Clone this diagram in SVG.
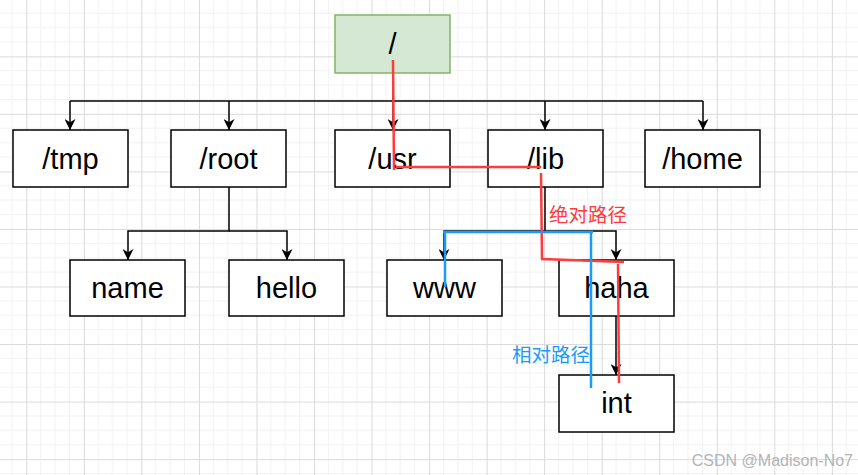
<svg xmlns="http://www.w3.org/2000/svg" width="858" height="475" viewBox="0 0 858 475">
<defs>
<pattern id="grid" patternUnits="userSpaceOnUse" x="26.3" y="-1.2" width="57.54" height="57.54">
<path d="M14.385,0V57.54M28.77,0V57.54M43.155,0V57.54M0,14.385H57.54M0,28.77H57.54M0,43.155H57.54" stroke="#f2f2f2" stroke-width="1" fill="none"/>
<path d="M0.5,0V57.54M0,0.5H57.54" stroke="#dadada" stroke-width="1" fill="none"/>
</pattern>
<marker id="arr" viewBox="0 0 10 10" refX="10" refY="5" markerWidth="11" markerHeight="11" markerUnits="userSpaceOnUse" orient="auto">
<path d="M0,0 L10,5 L0,10 L3,5 z" fill="#000"/>
</marker>
<style>
.box{fill:#fff;stroke:#000;stroke-width:1.5}
.lbl{font-family:"Liberation Sans",Arial,sans-serif;font-size:29px;fill:#000;text-anchor:middle}
.c{fill:none;stroke:#000;stroke-width:1.5}
.red{fill:none;stroke:#ff3b3b;stroke-width:2.5}
.blue{fill:none;stroke:#1a9bfc;stroke-width:2.5}
.note{font-family:"Liberation Sans","Noto Sans CJK SC",sans-serif;font-size:19.5px}
</style>
</defs>
<rect width="858" height="475" fill="#fff"/>
<rect width="858" height="475" fill="url(#grid)"/>

<g id="connectors">
<path class="c" d="M393,73V101"/>
<path class="c" d="M70,101H703"/>
<path class="c" d="M70,101V130" marker-end="url(#arr)"/>
<path class="c" d="M229,101V130" marker-end="url(#arr)"/>
<path class="c" d="M393,101V130" marker-end="url(#arr)"/>
<path class="c" d="M545,101V130" marker-end="url(#arr)"/>
<path class="c" d="M703,101V130" marker-end="url(#arr)"/>
<path class="c" d="M229,187V231H128V260" marker-end="url(#arr)"/>
<path class="c" d="M229,231H287V260" marker-end="url(#arr)"/>
<path class="c" d="M545,187V231H444V260" marker-end="url(#arr)"/>
<path class="c" d="M545,231H616V260" marker-end="url(#arr)"/>
<path class="c" d="M616,316V375" marker-end="url(#arr)"/>
</g>

<g id="n-root"><rect x="335" y="15" width="115" height="58" fill="#d5e8d4" stroke="#82b366" stroke-width="1.5"/><text class="lbl" x="392.5" y="54">/</text></g>
<g id="n-tmp"><rect class="box" x="13" y="130" width="115" height="57"/><text class="lbl" x="70.5" y="169">/tmp</text></g>
<g id="n-rootdir"><rect class="box" x="171" y="130" width="115" height="57"/><text class="lbl" x="228.5" y="169">/root</text></g>
<g id="n-usr"><rect class="box" x="335" y="130" width="115" height="57"/><text class="lbl" x="392.5" y="169">/usr</text></g>
<g id="n-lib"><rect class="box" x="488" y="130" width="115" height="57"/><text class="lbl" x="545.5" y="169">/lib</text></g>
<g id="n-home"><rect class="box" x="645" y="130" width="115" height="57"/><text class="lbl" x="702.5" y="169">/home</text></g>
<g id="n-name"><rect class="box" x="70" y="260" width="115" height="56"/><text class="lbl" x="127.5" y="298">name</text></g>
<g id="n-hello"><rect class="box" x="229" y="260" width="115" height="56"/><text class="lbl" x="286.5" y="298">hello</text></g>
<g id="n-www"><rect class="box" x="387" y="260" width="115" height="56"/><text class="lbl" x="444.5" y="298">www</text></g>
<g id="n-haha"><rect class="box" x="559" y="260" width="115" height="56"/><text class="lbl" x="616.5" y="298">haha</text></g>
<g id="n-int"><rect class="box" x="559" y="375" width="115" height="57"/><text class="lbl" x="616.5" y="413">int</text></g>

<g id="paths">
<path class="red" d="M393,60L394,170"/>
<path class="red" d="M396,167H541"/>
<path class="red" d="M541,173L542,259L624,262"/>
<path class="red" d="M618,264L619,383"/>
<path class="blue" d="M443,232H593"/>
<path class="blue" d="M445,232V287"/>
<path class="blue" d="M591,232V388"/>
<text class="note" x="549" y="222" fill="#ff3b3b">绝对路径</text>
<text class="note" x="512" y="362" fill="#1a9bfc">相对路径</text>
</g>

<text x="853" y="466" text-anchor="end" font-family="Liberation Sans,Arial,sans-serif" font-size="16" fill="#b4b4b4">CSDN @Madison-No7</text>
</svg>
